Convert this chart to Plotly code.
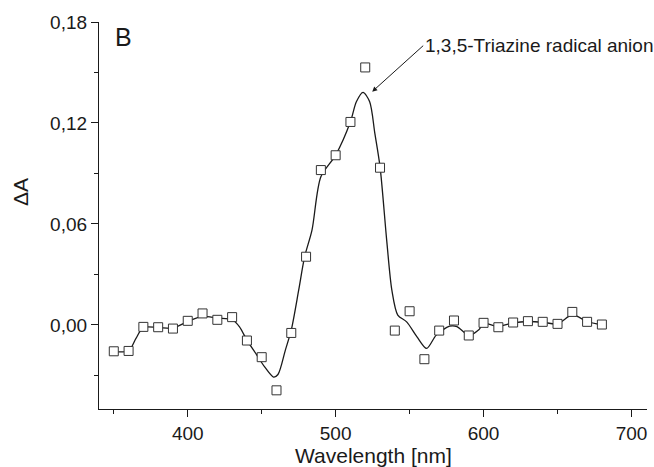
import plotly.graph_objects as go

# measured points (open squares)
wl = [350, 360, 370, 380, 390, 400, 410, 420, 430, 440, 450, 460, 470, 480, 490,
      500, 510, 520, 530, 540, 550, 560, 570, 580, 590, 600, 610, 620, 630, 640,
      650, 660, 670, 680]
dA = [-0.0157, -0.0155, -0.0012, -0.0014, -0.0022, 0.0024, 0.0068, 0.0030, 0.0046,
      -0.0093, -0.0192, -0.0389, -0.0048, 0.0405, 0.0920, 0.1008, 0.1206, 0.1530,
      0.0934, -0.0034, 0.0081, -0.0204, -0.0034, 0.0026, -0.0063, 0.0012, -0.0014,
      0.0014, 0.0022, 0.0018, 0.0006, 0.0077, 0.0018, 0.0002]

# fitted smooth curve
fit_x = [350, 360, 365, 370, 380, 390, 400, 410, 420, 430, 435, 440, 446, 452, 458,
         461, 466, 470, 475, 479, 484, 490, 500, 510, 514, 518.5, 523, 526.5, 530,
         534.5, 538, 542, 548, 555, 561.5, 568, 577, 582, 590, 597, 600, 610, 620,
         630, 640, 650, 660, 670, 680]
fit_y = [-0.0157, -0.0155, -0.0080, -0.0015, -0.0016, -0.0020, 0.0020, 0.0050, 0.0040,
         0.0032, -0.0012, -0.0091, -0.0170, -0.0250, -0.0310, -0.0295, -0.0150, -0.0030,
         0.0206, 0.0404, 0.0563, 0.0880, 0.1009, 0.1207, 0.1326, 0.1382, 0.1326, 0.1138,
         0.0940, 0.0504, 0.0206, 0.0058, 0.0018, -0.0071, -0.0140, -0.0061, -0.0008,
         -0.0010, -0.0061, -0.0027, 0.0008, -0.0008, 0.0012, 0.0020, 0.0016, 0.0006,
         0.0060, 0.0020, 0.0000]

x_ticks = [400, 500, 600, 700]
y_ticks = [0.00, 0.06, 0.12, 0.18]

FONT = "Arial, Liberation Sans, Helvetica, sans-serif"
INK = "#1a1a1a"

fig = go.Figure()
fig.add_trace(go.Scatter(x=fit_x, y=fit_y, mode="lines",
                         line=dict(color=INK, width=1.3, shape="spline", smoothing=0.8),
                         hoverinfo="skip", showlegend=False))
fig.add_trace(go.Scatter(x=wl, y=dA, mode="markers",
                         marker=dict(symbol="square", size=9, color="white",
                                     line=dict(color="#333333", width=1)),
                         showlegend=False))

fig.update_layout(
    width=654, height=467,
    margin=dict(l=99, r=7, t=22, b=58),
    paper_bgcolor="white", plot_bgcolor="white",
    separators=",.",
    font=dict(family=FONT, size=19, color=INK),
    xaxis=dict(range=[340, 710.5], tickvals=x_ticks, ticks="outside", ticklen=7,
               tickwidth=1.2, tickcolor=INK, showline=True, linecolor=INK, linewidth=1.3,
               showgrid=False, zeroline=False,
               minor=dict(tickvals=[350, 450, 550, 650], ticks="outside", ticklen=4,
                          tickwidth=1.2, tickcolor=INK, showgrid=False),
               tickfont=dict(size=19)),
    yaxis=dict(range=[-0.05, 0.18], tickvals=y_ticks, tickformat=".2f", ticks="outside",
               ticklen=7, tickwidth=1.2, tickcolor=INK, showline=True, linecolor=INK,
               linewidth=1.3, showgrid=False, zeroline=False,
               minor=dict(tickvals=[-0.03, 0.03, 0.09, 0.15], ticks="outside", ticklen=4,
                          tickwidth=1.2, tickcolor=INK, showgrid=False),
               tickfont=dict(size=19)),
    annotations=[
        dict(x=524.7, y=0.1386, xref="x", yref="y", text="1,3,5-Triazine radical anion",
             showarrow=True, ax=51, ay=-46, xanchor="left", yanchor="middle",
             arrowhead=2, arrowsize=1, arrowwidth=1, arrowcolor=INK,
             font=dict(size=19, color=INK)),
        dict(x=0.025, y=0.961, xref="paper", yref="paper", text="B", showarrow=False,
             xanchor="left", yanchor="middle", font=dict(size=25, color=INK)),
        dict(x=0.5, y=-0.12, xref="paper", yref="paper", text="Wavelength [nm]",
             showarrow=False, xanchor="center", yanchor="middle",
             font=dict(size=21, color=INK)),
        dict(x=-0.143, y=0.56, xref="paper", yref="paper", text="ΔA", textangle=-90,
             showarrow=False, xanchor="center", yanchor="middle",
             font=dict(size=21, color=INK)),
    ],
)

fig.write_html("out.html")
